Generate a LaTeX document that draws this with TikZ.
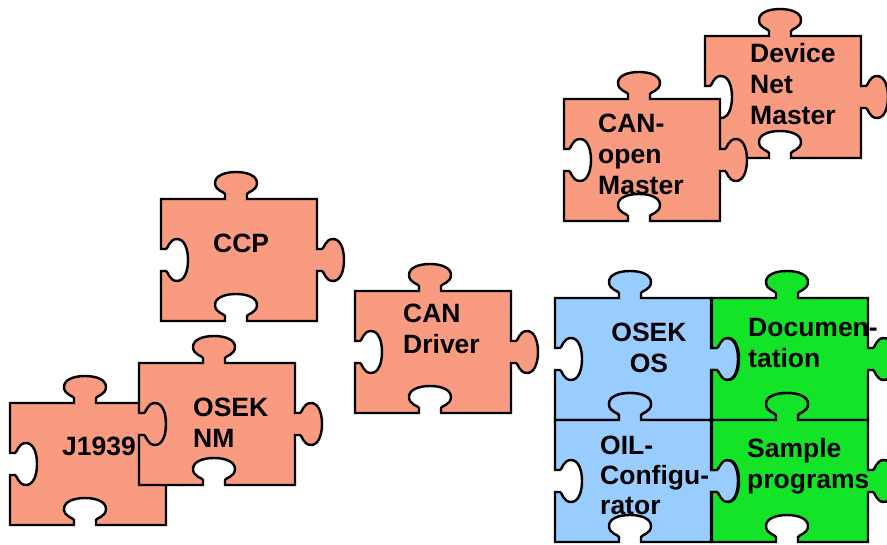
\documentclass[tikz,border=0pt]{standalone}
\usepackage{fontspec}
\setmainfont{Liberation Sans}
\definecolor{salmon}{RGB}{248,155,128}
\definecolor{skyblue}{RGB}{153,204,255}
\definecolor{brightgreen}{RGB}{20,228,40}
\tikzset{
  piecestyle/.style={draw=black, line width=2.4pt},
  lbl/.style={anchor=base west, inner sep=0pt, font=\fontsize{26.5}{31}\selectfont\bfseries},
  clbl/.style={anchor=base, inner sep=0pt, font=\fontsize{26.5}{31}\selectfont\bfseries}
}
% #1 name, #2 fill colour, #3 x, #4 y (top-left of body)
\newcommand{\puzzlepiece}[4]{%
  \begin{scope}[shift={(#3,#4)}]
  \filldraw[piecestyle, fill=#2] (0,0) -- (64,0) -- (64,-5)
    .. controls (64,-7) and (54,-8) .. (54,-16)
    .. controls (54,-23) and (63,-27) .. (75,-27)
    .. controls (87,-27) and (96,-23) .. (96,-16)
    .. controls (96,-8) and (86,-7) .. (86,-5)
    -- (86,0) -- (156,0) -- (156,50) -- (161,50)
    .. controls (163,50) and (164,40) .. (172,40)
    .. controls (179,40) and (183,49) .. (183,61)
    .. controls (183,73) and (179,82) .. (172,82)
    .. controls (164,82) and (163,72) .. (161,72)
    -- (156,72) -- (156,122) -- (86,122) -- (86,117)
    .. controls (86,115) and (96,114) .. (96,106)
    .. controls (96,99) and (87,95) .. (75,95)
    .. controls (63,95) and (54,99) .. (54,106)
    .. controls (54,114) and (64,115) .. (64,117)
    -- (64,122) -- (0,122) -- (0,72) -- (5,72)
    .. controls (7,72) and (8,82) .. (16,82)
    .. controls (23,82) and (27,73) .. (27,61)
    .. controls (27,49) and (23,40) .. (16,40)
    .. controls (8,40) and (7,50) .. (5,50)
    -- (0,50) -- cycle;
  \coordinate (#1) at (78,61);
  \end{scope}}
\begin{document}
\begin{tikzpicture}[x=1pt,y=-1pt]
\path[use as bounding box, clip] (0,0) rectangle (887,545);
\fill[white] (0,0) rectangle (887,545);
% pieces
\puzzlepiece{devicenet}{salmon}{705}{36}
\puzzlepiece{canopen}{salmon}{564}{99}
\puzzlepiece{ccp}{salmon}{161}{199}
\puzzlepiece{candriver}{salmon}{355}{291}
\puzzlepiece{j1939}{salmon}{10}{403}
\puzzlepiece{oseknm}{salmon}{139}{363}
\puzzlepiece{osekos}{skyblue}{555}{298}
\puzzlepiece{oil}{skyblue}{555}{420}
\puzzlepiece{doc}{brightgreen}{712}{298}
\puzzlepiece{sample}{brightgreen}{712}{420}
% labels
\node[lbl] (tdevicenet) at (750,63) {\begin{tabular}[t]{@{}l@{}}Device\\Net\\Master\end{tabular}};
\node[lbl] (tcanopen) at (598,133) {\begin{tabular}[t]{@{}l@{}}CAN-\\open\\Master\end{tabular}};
\node[lbl] (tccp) at (213,253) {CCP};
\node[lbl] (tcandriver) at (403,323) {\begin{tabular}[t]{@{}l@{}}CAN\\Driver\end{tabular}};
\node[lbl] (tj1939) at (62,456) {J1939};
\node[lbl] (toseknm) at (193,417) {\begin{tabular}[t]{@{}l@{}}OSEK\\NM\end{tabular}};
\node[clbl] (tosekos) at (649,342) {\begin{tabular}[t]{@{}c@{}}OSEK\\OS\end{tabular}};
\node[lbl] (tdoc) at (748,337) {\begin{tabular}[t]{@{}l@{}}Documen-\\tation\end{tabular}};
\node[lbl] (toil) at (600,455) {\begin{tabular}[t]{@{}l@{}}OIL-\\[-1pt]Configu-\\[-1pt]rator\end{tabular}};
\node[lbl] (tsample) at (747,457) {\begin{tabular}[t]{@{}l@{}}Sample\\programs\end{tabular}};
\end{tikzpicture}
\end{document}
